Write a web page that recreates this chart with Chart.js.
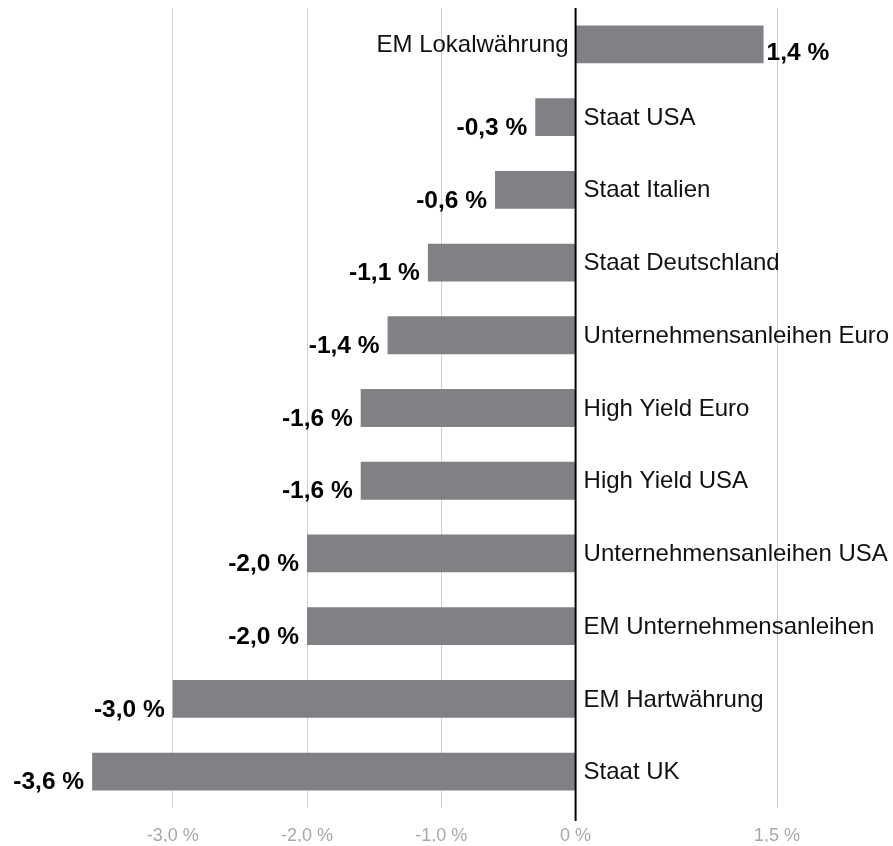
<!DOCTYPE html>
<html>
<head>
<meta charset="utf-8">
<script src="https://cdn.jsdelivr.net/npm/chart.js@4.4.1/dist/chart.umd.min.js"></script>
<style>
  html, body { margin: 0; padding: 0; background: #fff; }
  #wrap { width: 893px; height: 846px; }
</style>
</head>
<body>
<div id="wrap"><canvas id="bondChart"></canvas></div>
<script>
const categories = [
  "EM Lokalwährung", "Staat USA", "Staat Italien", "Staat Deutschland",
  "Unternehmensanleihen Euro", "High Yield Euro", "High Yield USA",
  "Unternehmensanleihen USA", "EM Unternehmensanleihen", "EM Hartwährung", "Staat UK"
];
const values = [1.4, -0.3, -0.6, -1.1, -1.4, -1.6, -1.6, -2.0, -2.0, -3.0, -3.6];
const tickValues = [-3, -2, -1, 0, 1.5];
const tickLabels = ["-3,0 %", "-2,0 %", "-1,0 %", "0 %", "1,5 %"];

const FONT = "'Liberation Sans', Arial, Helvetica, sans-serif";
const fmt = v => v.toFixed(1).replace(".", ",") + " %";

// labels next to bars + zero line
const barLabels = {
  id: "barLabels",
  afterDatasetsDraw(chart) {
    const { ctx, scales: { x }, chartArea } = chart;
    const meta = chart.getDatasetMeta(0);
    const zero = x.getPixelForValue(0);
    ctx.save();

    // zero line
    ctx.strokeStyle = "#000";
    ctx.lineWidth = 2;
    ctx.beginPath();
    ctx.moveTo(zero, chartArea.top);
    ctx.lineTo(zero, chartArea.bottom + 13);
    ctx.stroke();

    meta.data.forEach((bar, i) => {
      const v = values[i];
      const yc = bar.y;
      // category name
      ctx.font = "24px " + FONT;
      ctx.fillStyle = "#111";
      ctx.textBaseline = "middle";
      if (v < 0) {
        ctx.textAlign = "left";
        ctx.fillText(categories[i], zero + 8, yc + 1);
      } else {
        ctx.textAlign = "right";
        ctx.fillText(categories[i], zero - 7, yc + 1);
      }
      // value
      ctx.font = "bold 24.5px " + FONT;
      ctx.fillStyle = "#000";
      const end = x.getPixelForValue(v);
      if (v < 0) {
        ctx.textAlign = "right";
        ctx.fillText(fmt(v), end - 8, yc + 11);
      } else {
        ctx.textAlign = "left";
        ctx.fillText(fmt(v), end + 3, yc + 9);
      }
    });
    ctx.restore();
  }
};

window.addEventListener("load", () => {
  const ctx = document.getElementById("bondChart").getContext("2d");

  new Chart(ctx, {
    type: "bar",
    data: {
      labels: categories,
      datasets: [{
        data: values,
        backgroundColor: "#818084",
        barPercentage: 0.52,
        categoryPercentage: 1
      }]
    },
    options: {
      indexAxis: "y",
      responsive: true,
      maintainAspectRatio: false,
      animation: false,
      layout: { padding: { left: 72, right: 22, top: 8, bottom: 4 } },
      plugins: { legend: { display: false }, tooltip: { enabled: false } },
      scales: {
        x: {
          min: -3.75,
          max: 2.2,
          afterBuildTicks: axis => {
            axis.ticks = tickValues.map(v => ({ value: v }));
          },
          afterFit: axis => { axis.height = 34; },
          border: { display: false },
          grid: {
            color: c => (c.tick && c.tick.value === 0) ? "rgba(0,0,0,0)" : "#d0d0d0",
            lineWidth: 1,
            drawTicks: false
          },
          ticks: {
            padding: 17,
            color: "#a8a8a8",
            font: { family: FONT, size: 18 },
            maxRotation: 0,
            autoSkip: false,
            callback: v => tickLabels[tickValues.indexOf(v)]
          }
        },
        y: {
          display: false,
          grid: { display: false }
        }
      }
    },
    plugins: [barLabels]
  });
});
</script>
</body>
</html>
